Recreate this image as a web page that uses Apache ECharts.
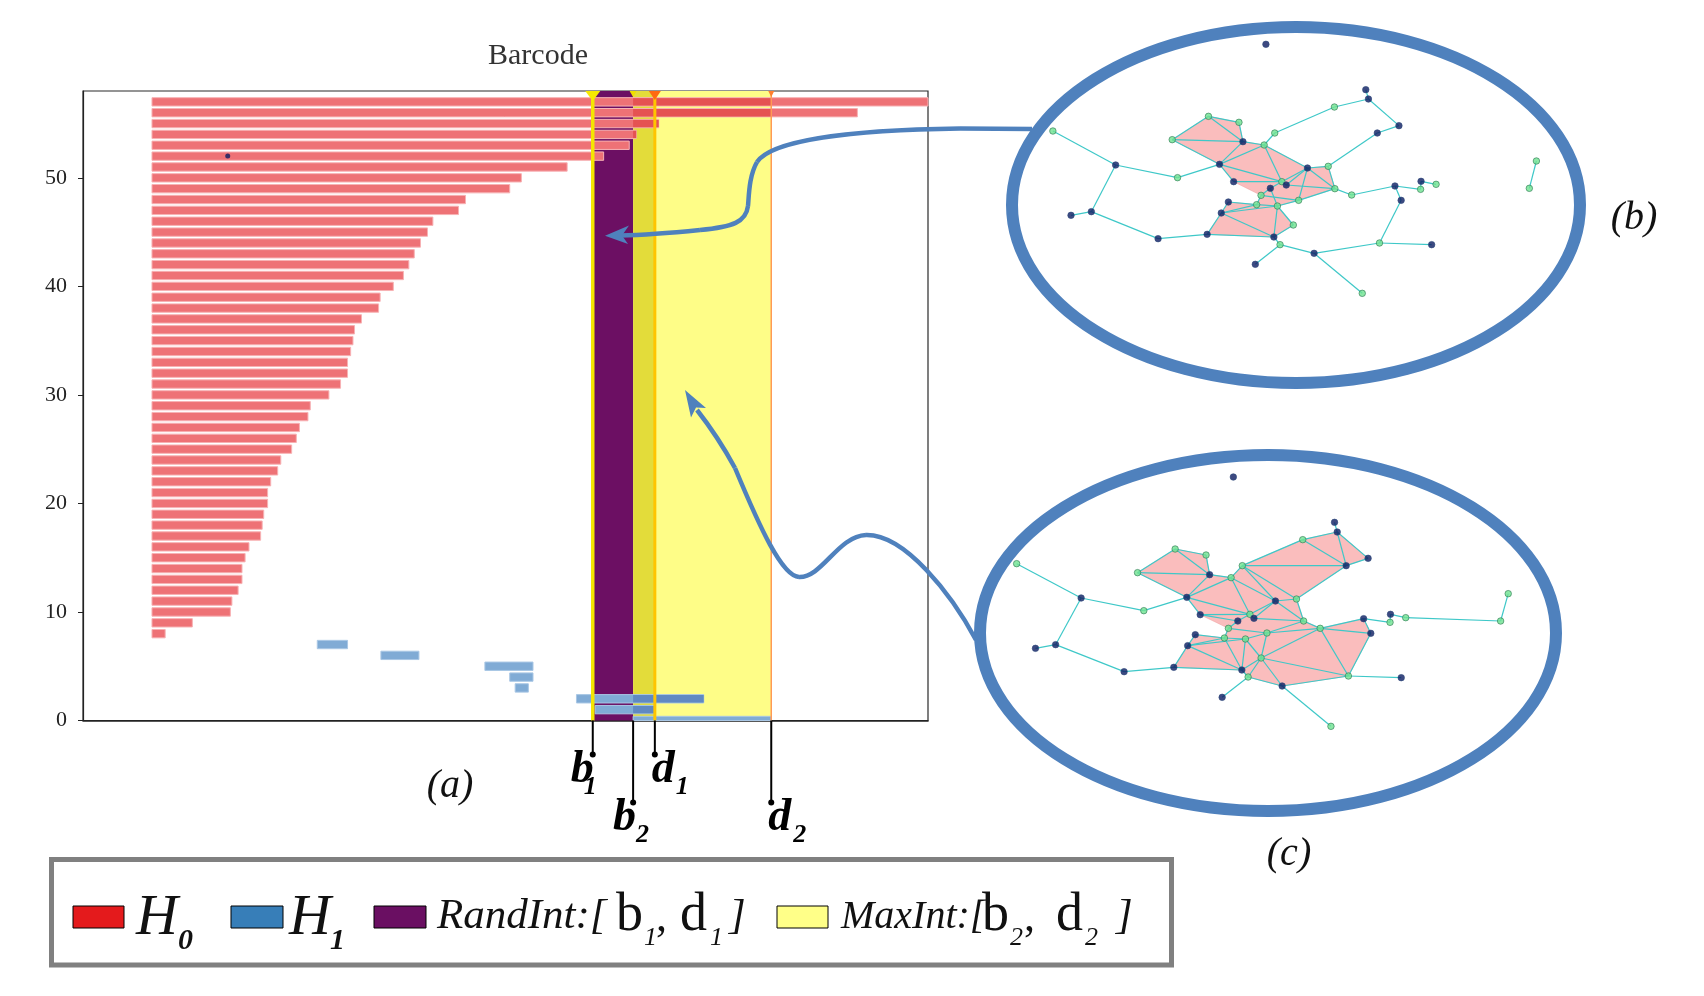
<!DOCTYPE html>
<html><head><meta charset="utf-8">
<script src="https://cdn.jsdelivr.net/npm/echarts@6.0.0/dist/echarts.min.js"></script>
<style>html,body{margin:0;padding:0;background:#fff}#c{width:1704px;height:996px}</style>
</head><body><div id="c"></div>
<script>
// ---------------- data ----------------
const yTicks = [0, 10, 20, 30, 40, 50];
const h0Rows = [57,56,55,54,53,52,51,50,49,48,47,46,45,44,43,42,41,40,39,38,37,36,35,34,33,32,31,30,29,28,27,26,25,24,23,22,21,20,19,18,17,16,15,14,13,12,11,10,9,8];
const h0Birth = [0,0,0,0,0,0,0,0,0,0,0,0,0,0,0,0,0,0,0,0,0,0,0,0,0,0,0,0,0,0,0,0,0,0,0,0,0,0,0,0,0,0,0,0,0,0,0,0,0,0];
const h0Death = [1.0,0.909,0.653,0.624,0.615,0.582,0.535,0.476,0.461,0.404,0.395,0.362,0.355,0.346,0.338,0.331,0.324,0.311,0.294,0.292,0.270,0.261,0.259,0.256,0.252,0.252,0.243,0.228,0.204,0.201,0.190,0.186,0.180,0.166,0.162,0.153,0.149,0.149,0.144,0.142,0.140,0.125,0.120,0.116,0.116,0.111,0.103,0.101,0.052,0.017];
const h1Rows = [7, 6, 5, 4, 3, 2, 1, 0];
const h1Birth = [0.213, 0.295, 0.429, 0.461, 0.468, 0.547, 0.571, 0.620];
const h1Death = [0.252, 0.344, 0.491, 0.491, 0.485, 0.711, 0.648, 0.798];
const randInt = [0.568, 0.648];   // [b1, d1]
const maxInt = [0.620, 0.798];    // [b2, d2]
const strayDot = [[0.0976, 52.0]];
const markerNames = [['b','1'], ['b','2'], ['d','1'], ['d','2']];

// simplicial complex (b): [x, y, type] type 1 = green, 0 = navy
const nodesB = [[820,130,0],[1046,266,0],[1052,294,0],[975,318,1],[1121,374,0],[1072,396,0],[840,396,1],[690,346,1],[759,364,1],[608,416,1],
[768,422,0],[816,432,1],[338,390,1],[480,492,0],[620,530,1],[715,490,0],[914,501,0],[961,496,1],[747,542,0],[856,542,1],
[866,552,0],[830,562,0],[976,563,1],[1014,582,1],[809,583,1],[894,598,1],[735,603,0],[799,611,1],[846,615,1],[719,636,0],
[882,672,1],[687,700,0],[838,708,0],[852,731,1],[929,757,0],[796,790,0],[1038,877,1],[1077,726,1],[1195,731,0],[1126,598,0],
[1112,555,0],[1171,541,0],[1170,565,1],[1205,550,1],[1432,480,1],[1416,562,1],[576,713,0],[425,632,0],[379,643,0]];
const edgesB = [[2,3],[3,4],[4,7],[7,12],[3,5],[5,6],[6,18],[8,9],[8,10],[8,11],[9,11],[10,11],[10,16],[11,16],[11,12],[12,16],[12,17],[12,20],
[16,20],[16,19],[15,16],[14,15],[13,14],[14,48],[48,49],[47,48],[32,47],[32,33],[30,32],[27,30],[27,28],[28,30],[29,30],[30,33],[29,33],[29,31],
[31,33],[33,34],[34,36],[34,35],[35,37],[35,38],[38,39],[38,40],[40,41],[24,41],[41,43],[42,43],[42,44],[23,24],[18,23],[17,18],[17,23],[17,20],
[17,21],[17,26],[19,20],[20,21],[21,23],[23,26],[20,22],[22,25],[25,26],[25,28],[28,29],[22,29],[26,29],[45,46]];
const polysB = [[10,8,9,11,12,17,18,23,26,29,28,25,19,16],[27,28,29,31,33,32,30]];

// simplicial complex (c)
const nodesC = [[787,228,0],[1013,364,0],[1019,393,0],[942,416,1],[1088,472,0],[1039,494,0],[807,494,1],[657,444,1],[726,462,1],[573,515,1],
[734,521,0],[782,530,1],[303,488,1],[447,591,0],[587,629,1],[683,589,0],[881,600,0],[928,594,1],[713,641,0],[824,640,1],
[833,652,0],[797,660,0],[944,660,1],[981,682,1],[776,682,1],[862,696,1],[702,701,0],[767,711,1],[814,714,1],[685,734,0],
[849,771,1],[654,799,0],[806,807,0],[820,828,1],[896,855,0],[762,889,0],[1005,976,1],[1044,825,1],[1162,830,0],[1094,697,0],
[1078,653,0],[1138,640,0],[1137,664,1],[1172,650,1],[1401,578,1],[1384,660,1],[543,812,0],[390,731,0],[345,742,0]];
const edgesC = [[2,3],[3,4],[3,5],[3,6],[5,6],[4,6],[4,7],[6,7],[7,12],[7,17],[7,18],[6,18],[17,18],[8,9],[8,10],[8,11],[9,11],[10,11],[10,16],
[11,16],[11,12],[12,16],[12,17],[12,20],[16,20],[16,19],[15,16],[14,15],[13,14],[14,48],[48,49],[47,48],[32,47],[32,33],[30,32],[27,30],[27,28],
[28,30],[29,30],[30,33],[29,33],[29,31],[31,33],[33,34],[34,36],[34,35],[35,37],[35,38],[38,39],[38,40],[40,41],[24,41],[41,43],[42,43],[42,44],
[44,46],[45,46],[23,24],[18,23],[17,20],[17,21],[17,23],[20,21],[21,23],[19,20],[20,22],[22,25],[25,26],[25,28],[28,29],[23,26],[26,29],[24,26],
[24,31],[24,38],[31,38],[31,35],[31,34],[26,31],[24,40],[28,33],[19,22]];
const polysC = [[10,8,9,11,12,7,4,3,5,6,18,23,24,41,40,38,35,34,33,32,30,27,28,25,19,16]];

// ---------------- styles ----------------
const SERIF = '"Liberation Serif", "DejaVu Serif", serif';
const X_MIN = -0.0889, X_MAX = 1.0, Y_MAX = 58;
const RED = '#ee7276', RED_DARK = '#e55252', RED_EDGE = '#f7b2b4';
const BLUE = '#80abd5', BLUE_DARK = '#6089c2', BLUE_EDGE = '#a9c7e5';
const PURPLE = '#6c0f63', OVERLAP = '#e3dc3a', YELLOW = '#fefd87';
const RING = '#4f81bd', EDGE = '#3ec8c8', PINK = '#fabdbd';

const chart = echarts.init(document.getElementById('c'), null, {renderer: 'canvas'});

function barRender(fill, dark, stroke) {
  return function (params, api) {
    const y = api.value(0), x0 = api.value(1), x1 = api.value(2);
    const a = api.coord([x0, y]), b = api.coord([x1, y]);
    const h = api.size([0, 0.77])[1];
    const cs = params.coordSys;
    const clipR = {x: cs.x, y: cs.y, width: cs.width, height: cs.height};
    const r = echarts.graphic.clipRectByRect({x: a[0], y: a[1] - h / 2, width: b[0] - a[0], height: h}, clipR);
    if (!r) return;
    const children = [{type: 'rect', shape: r, style: {fill: fill, stroke: stroke, lineWidth: 1}}];
    const lo = Math.max(x0, maxInt[0]), hi = Math.min(x1, maxInt[1]);
    if (hi > lo && y > 0) {
      const p = api.coord([lo, y]), q = api.coord([hi, y]);
      const r2 = echarts.graphic.clipRectByRect({x: p[0], y: p[1] - h / 2 + 0.5, width: q[0] - p[0], height: h - 1}, clipR);
      if (r2) children.push({type: 'rect', shape: r2, style: {fill: dark}});
    }
    return {type: 'group', children: children};
  };
}

const bandData = [[randInt[0], maxInt[0]], [maxInt[0], randInt[1]], [randInt[1], maxInt[1]]];
const bandFill = [PURPLE, OVERLAP, YELLOW];

const markerStyle = [
  {line: '#f4e600', lw: 3.5, tri: '#f6e800', tw: 15, th: 10, len: 34, align: 'right', ldx: 1, sdx: -9},
  {line: null, lw: 0, tri: '#f0e000', tw: 7, th: 6, len: 82, align: 'right', ldx: 3, sdx: 3},
  {line: '#ffc400', lw: 3, tri: '#ff6a10', tw: 12, th: 9, len: 34, align: 'left', ldx: -3, sdx: 21},
  {line: '#ff9a55', lw: 1.5, tri: '#ff8030', tw: 6, th: 6, len: 82, align: 'left', ldx: -3, sdx: 22}
];
const markerX = [randInt[0], maxInt[0], randInt[1], maxInt[1]];

function T(text, x, base, size, st, align, color) {
  return {type: 'text', x: x, y: base - 0.34 * size, z: 120,
    style: {text: text, font: (st || '') + ' ' + size + 'px ' + SERIF, fill: color || '#111',
      align: align || 'left', verticalAlign: 'middle'}};
}

function edgeData(nodes, edges) {
  return edges.map(e => [nodes[e[0]-1][0], nodes[e[0]-1][1], nodes[e[1]-1][0], nodes[e[1]-1][1]]);
}
function nodeData(nodes) {
  return nodes.map(n => ({value: [n[0], n[1]], itemStyle: n[2] ?
    {color: '#6fe290', borderColor: '#2f7a55', borderWidth: 0.8} :
    {color: '#0c1b62', borderColor: '#2d4a7a', borderWidth: 0.8}}));
}
function polyRender(nodes, polys) {
  return function (params, api) {
    const pts = polys[params.dataIndex].map(k => api.coord([nodes[k-1][0], nodes[k-1][1]]));
    return {type: 'polygon', shape: {points: pts}, style: {fill: PINK, stroke: '#f2a5a5', lineWidth: 0.6}};
  };
}
function edgeRender(params, api) {
  const a = api.coord([api.value(0), api.value(1)]), b = api.coord([api.value(2), api.value(3)]);
  return {type: 'line', shape: {x1: a[0], y1: a[1], x2: b[0], y2: b[1]}, style: {stroke: EDGE, lineWidth: 1.2}};
}

const option = {
  animation: false,
  backgroundColor: '#fff',
  grid: [
    {left: 83, top: 91, width: 845, height: 629.5, show: true, borderColor: '#2a2a2a', borderWidth: 1.2, backgroundColor: 'transparent'},
    {left: 903.5, top: 1, width: 693, height: 400, show: false},
    {left: 881, top: 401, width: 702, height: 420, show: false}
  ],
  xAxis: [
    {gridIndex: 0, type: 'value', min: X_MIN, max: X_MAX, axisLine: {show: true, onZero: false, lineStyle: {color: '#222', width: 1.6}},
      axisTick: {show: false}, axisLabel: {show: false}, splitLine: {show: false}},
    {gridIndex: 1, type: 'value', min: 0, max: 1568, show: false},
    {gridIndex: 2, type: 'value', min: 0, max: 1568, show: false}
  ],
  yAxis: [
    {gridIndex: 0, type: 'value', min: 0, max: Y_MAX, interval: 10,
      axisLine: {show: true, onZero: false, lineStyle: {color: '#222', width: 1.2}},
      axisTick: {show: true, length: 5, lineStyle: {color: '#222'}, customValues: yTicks},
      axisLabel: {color: '#222', fontFamily: SERIF, fontSize: 22, margin: 16, customValues: yTicks},
      splitLine: {show: false}},
    {gridIndex: 1, type: 'value', min: 0, max: 1200, inverse: true, show: false},
    {gridIndex: 2, type: 'value', min: 0, max: 1260, inverse: true, show: false}
  ],
  series: [
    {type: 'custom', xAxisIndex: 0, yAxisIndex: 0, data: bandData,
      renderItem: function (params, api) {
        const a = api.coord([api.value(0), Y_MAX]), b = api.coord([api.value(1), 0]);
        return {type: 'rect', shape: {x: a[0], y: a[1], width: b[0] - a[0], height: b[1] - a[1]}, style: {fill: bandFill[params.dataIndex]}};
      }},
    {type: 'custom', xAxisIndex: 0, yAxisIndex: 0,
      data: h0Rows.map((r, i) => [r, h0Birth[i], h0Death[i]]),
      renderItem: barRender(RED, RED_DARK, RED_EDGE)},
    {type: 'custom', xAxisIndex: 0, yAxisIndex: 0,
      data: h1Rows.map((r, i) => [r, h1Birth[i], h1Death[i]]),
      renderItem: barRender(BLUE, BLUE_DARK, BLUE_EDGE)},
    {type: 'scatter', xAxisIndex: 0, yAxisIndex: 0, data: strayDot, symbolSize: 5, itemStyle: {color: '#0c1b62'}},
    {type: 'custom', xAxisIndex: 0, yAxisIndex: 0, clip: false, z: 5,
      data: markerX.map(x => [x]),
      renderItem: function (params, api) {
        const i = params.dataIndex, s = markerStyle[i];
        const x = api.value(0);
        const top = api.coord([x, Y_MAX]), bot = api.coord([x, 0]);
        const ch = [];
        if (s.line) ch.push({type: 'line', shape: {x1: top[0], y1: top[1], x2: bot[0], y2: bot[1]}, style: {stroke: s.line, lineWidth: s.lw}});
        ch.push({type: 'polygon', shape: {points: [[top[0] - s.tw / 2, top[1]], [top[0] + s.tw / 2, top[1]], [top[0], top[1] + s.th]]}, style: {fill: s.tri}});
        const dy = bot[1] + s.len;
        ch.push({type: 'line', shape: {x1: bot[0], y1: bot[1], x2: bot[0], y2: dy}, style: {stroke: '#000', lineWidth: 2}});
        ch.push({type: 'circle', shape: {cx: bot[0], cy: dy, r: 3}, style: {fill: '#000'}});
        ch.push({type: 'text', x: bot[0] + s.ldx, y: dy + 31 - 0.34 * 46,
          style: {text: markerNames[i][0], font: 'italic bold 46px ' + SERIF, fill: '#000', align: s.align, verticalAlign: 'middle'}});
        ch.push({type: 'text', x: bot[0] + s.sdx, y: dy + 42 - 0.34 * 26,
          style: {text: markerNames[i][1], font: 'italic bold 26px ' + SERIF, fill: '#000', align: 'left', verticalAlign: 'middle'}});
        return {type: 'group', children: ch};
      }},
    // complex (b)
    {type: 'custom', xAxisIndex: 1, yAxisIndex: 1, data: polysB.map((p, i) => [i]), renderItem: polyRender(nodesB, polysB)},
    {type: 'custom', xAxisIndex: 1, yAxisIndex: 1, data: edgeData(nodesB, edgesB), renderItem: edgeRender},
    {type: 'scatter', xAxisIndex: 1, yAxisIndex: 1, data: nodeData(nodesB), symbolSize: 6.5},
    // complex (c)
    {type: 'custom', xAxisIndex: 2, yAxisIndex: 2, data: polysC.map((p, i) => [i]), renderItem: polyRender(nodesC, polysC)},
    {type: 'custom', xAxisIndex: 2, yAxisIndex: 2, data: edgeData(nodesC, edgesC), renderItem: edgeRender},
    {type: 'scatter', xAxisIndex: 2, yAxisIndex: 2, data: nodeData(nodesC), symbolSize: 6.5}
  ],
  graphic: [
    T('Barcode', 538, 66, 30, '', 'center', '#333'),
    T('(a)', 450, 800, 40, 'italic', 'center', '#111'),
    T('(b)', 1634, 232, 40, 'italic', 'center', '#111'),
    T('(c)', 1289, 868, 40, 'italic', 'center', '#111'),
    {type: 'ellipse', z: 110, shape: {cx: 1296, cy: 205, rx: 284, ry: 178}, style: {fill: null, stroke: RING, lineWidth: 12}},
    {type: 'ellipse', z: 110, shape: {cx: 1268, cy: 633, rx: 288, ry: 178}, style: {fill: null, stroke: RING, lineWidth: 12}},
    // arrow 1
    {type: 'line', z: 110, shape: {x1: 1032, y1: 129, x2: 960, y2: 128.5}, style: {stroke: RING, lineWidth: 4.5}},
    {type: 'bezierCurve', z: 110, shape: {x1: 960, y1: 128.5, cpx1: 850, cpy1: 130, cpx2: 772, cpy2: 140, x2: 757, y2: 162}, style: {stroke: RING, lineWidth: 4.5, fill: null}},
    {type: 'bezierCurve', z: 110, shape: {x1: 757, y1: 162, cpx1: 749, cpy1: 176, cpx2: 749, cpy2: 195, x2: 748, y2: 206}, style: {stroke: RING, lineWidth: 4.5, fill: null}},
    {type: 'bezierCurve', z: 110, shape: {x1: 748, y1: 206, cpx1: 746, cpy1: 222, cpx2: 733, cpy2: 227, x2: 700, y2: 230}, style: {stroke: RING, lineWidth: 4.5, fill: null}},
    {type: 'bezierCurve', z: 110, shape: {x1: 700, y1: 230, cpx1: 670, cpy1: 233, cpx2: 645, cpy2: 235, x2: 620, y2: 235.5}, style: {stroke: RING, lineWidth: 4.5, fill: null}},
    {type: 'polygon', z: 111, shape: {points: [[605, 235.7], [629, 225.5], [622, 235.6], [628, 244]]}, style: {fill: RING}},
    // arrow 2
    {type: 'bezierCurve', z: 110, shape: {x1: 976, y1: 640, cpx1: 952, cpy1: 595, cpx2: 905, cpy2: 534, x2: 866, y2: 535}, style: {stroke: RING, lineWidth: 4.5, fill: null}},
    {type: 'bezierCurve', z: 110, shape: {x1: 866, y1: 535, cpx1: 838, cpy1: 536, cpx2: 822, cpy2: 578, x2: 799, y2: 577}, style: {stroke: RING, lineWidth: 4.5, fill: null}},
    {type: 'bezierCurve', z: 110, shape: {x1: 799, y1: 577, cpx1: 782, cpy1: 576, cpx2: 760, cpy2: 528, x2: 735, y2: 468}, style: {stroke: RING, lineWidth: 4.5, fill: null}},
    {type: 'bezierCurve', z: 110, shape: {x1: 735, y1: 468, cpx1: 722, cpy1: 444, cpx2: 708, cpy2: 424, x2: 697, y2: 410}, style: {stroke: RING, lineWidth: 4.5, fill: null}},
    {type: 'polygon', z: 111, shape: {points: [[685, 390], [706, 408], [696, 407.5], [691, 417.5]]}, style: {fill: RING}},
    // legend box
    {type: 'rect', z: 100, shape: {x: 51.5, y: 859.5, width: 1120, height: 105.5}, style: {fill: '#fff', stroke: '#808080', lineWidth: 5}},
    {type: 'rect', z: 101, shape: {x: 73, y: 906, width: 51, height: 22}, style: {fill: '#e41a1c', stroke: '#000', lineWidth: 1}},
    {type: 'rect', z: 101, shape: {x: 231, y: 906, width: 52, height: 22}, style: {fill: '#377eb8', stroke: '#000', lineWidth: 1}},
    {type: 'rect', z: 101, shape: {x: 374, y: 906, width: 52, height: 22}, style: {fill: '#6a0f62', stroke: '#000', lineWidth: 1}},
    {type: 'rect', z: 101, shape: {x: 777, y: 906, width: 51, height: 22}, style: {fill: '#ffff88', stroke: '#000', lineWidth: 1}},
    T('H', 136, 938, 58, 'italic'), T('0', 178, 951, 30, 'italic bold'),
    T('H', 289, 938, 58, 'italic'), T('1', 330, 951, 30, 'italic bold'),
    T('RandInt:[', 437, 931, 43, 'italic'),
    T('b', 616, 934, 54, ''), T('1', 644, 947, 26, 'italic'), T(',', 656, 934, 44, ''),
    T('d', 680, 934, 54, ''), T('1', 710, 947, 26, 'italic'), T(']', 729, 931, 43, 'italic'),
    T('MaxInt:[', 841, 931, 40, 'italic'),
    T('b', 982, 934, 54, ''), T('2', 1010, 947, 26, 'italic'), T(',', 1024, 934, 44, ''),
    T('d', 1056, 934, 54, ''), T('2', 1085, 947, 26, 'italic'), T(']', 1116, 931, 43, 'italic')
  ]
};
chart.setOption(option);
</script></body></html>
